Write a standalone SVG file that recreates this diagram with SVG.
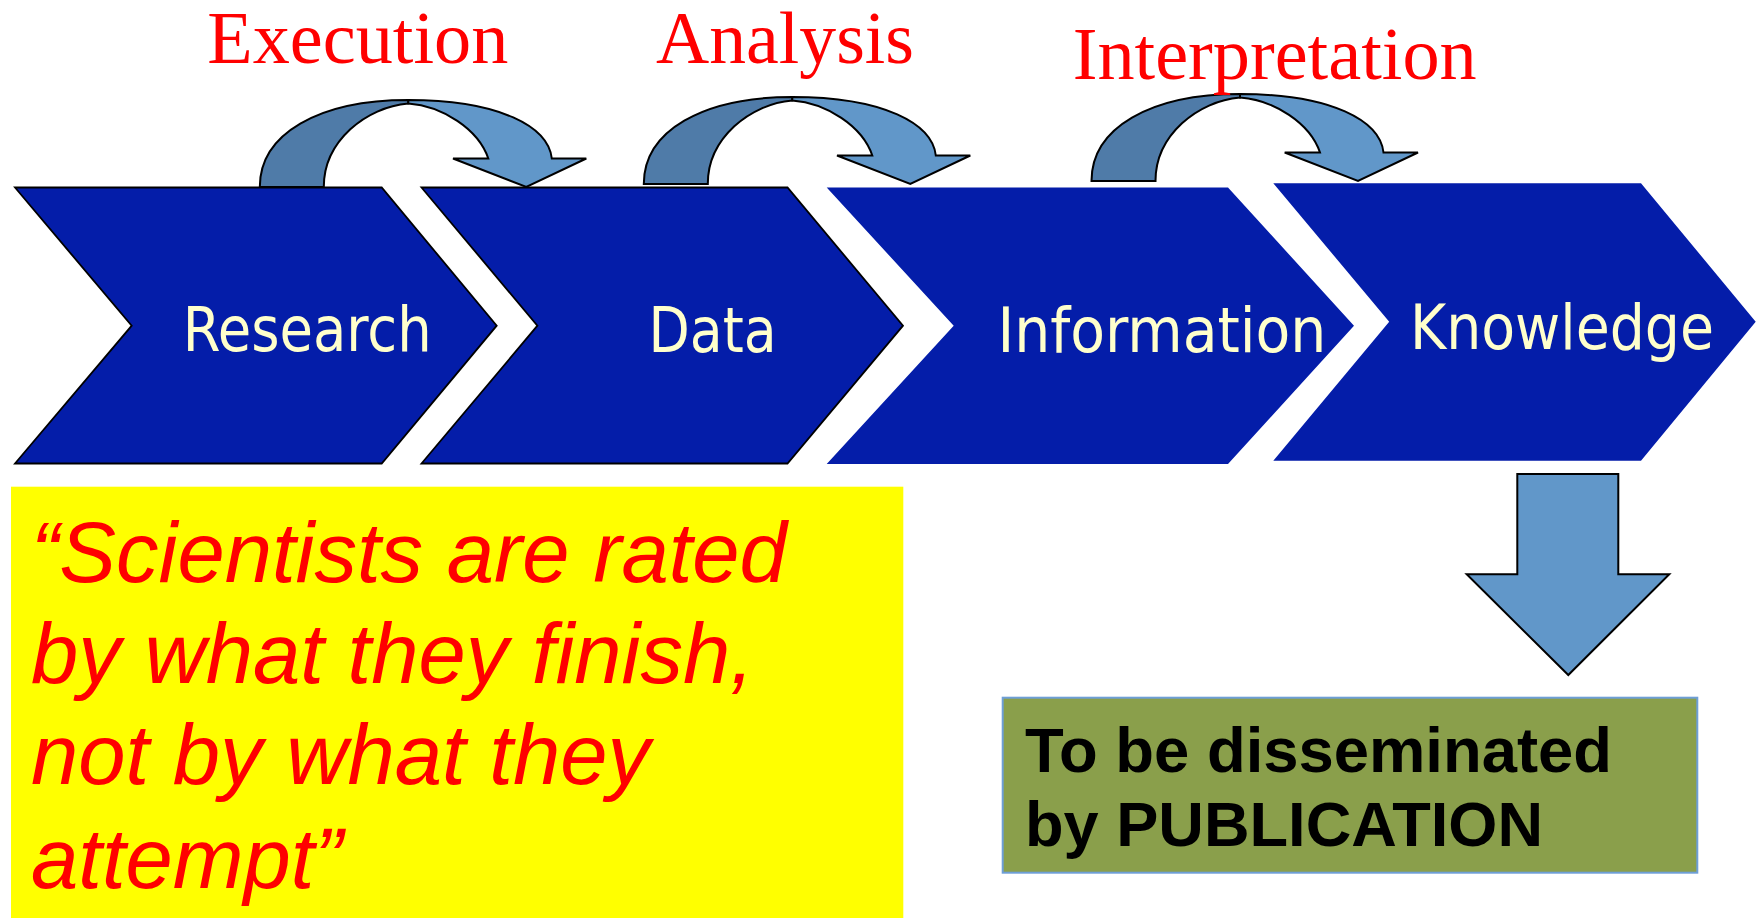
<svg xmlns="http://www.w3.org/2000/svg" width="1759" height="918" viewBox="0 0 1759 918">
<style>
.chev{fill:#041DA9}
.chev.s{stroke:#000;stroke-width:1.8;stroke-linejoin:miter}
.lbl{font-family:"DejaVu Sans Condensed","DejaVu Sans",Verdana,sans-serif;font-stretch:condensed;font-size:63px;fill:#FFFFCC}
.step{font-family:"Liberation Serif","Times New Roman",serif;font-size:75px;fill:#FF0000}
.back{fill:#4F7BA8;stroke:#000;stroke-width:2;stroke-linejoin:miter}
.front{fill:#6197C9;stroke:#000;stroke-width:2;stroke-linejoin:miter}
.quote{font-family:"Liberation Sans",Arial,sans-serif;font-style:italic;font-size:85px;fill:#FF0000}
.pub{font-family:"Liberation Sans",Arial,sans-serif;font-weight:bold;font-size:63px;fill:#000}
</style>
<defs>
<g id="curved">
<path class="back" d="M-148.5,0 C-148.5,-53 -90,-87 0,-87 L0,-83.5 C-42,-80 -84.5,-46 -84.5,0 Z"/>
<path class="front" d="M0,-87 C92,-87 140,-60 143.5,-28.5 L178,-28.5 L118,0 L44.7,-28.5 L80,-28.5 C70,-58 34,-81 0,-83.5 Z"/>
</g>
</defs>
<rect width="1759" height="918" fill="#fff"/>

<g id="research">
<polygon class="chev s" points="15,187.5 381.7,187.5 496.7,325.7 381.7,463.5 15,463.5 131.7,325.7"/>
<text class="lbl" x="182.7" y="351" textLength="249" lengthAdjust="spacingAndGlyphs">Research</text>
</g>
<g id="data">
<polygon class="chev s" points="421.5,187.5 787.5,187.5 903,325.7 787.5,463.5 421.5,463.5 537.4,325.7"/>
<text class="lbl" x="648.5" y="352" textLength="128" lengthAdjust="spacingAndGlyphs">Data</text>
</g>
<g id="information">
<polygon class="chev" points="826.7,187.5 1228,187.5 1354,325.7 1228,464 826.7,464 953.7,325.7"/>
<text class="lbl" x="997.4" y="352" textLength="329" lengthAdjust="spacingAndGlyphs">Information</text>
</g>
<g id="knowledge">
<polygon class="chev" points="1273.3,183.3 1641,183.3 1755.7,321.7 1641,460.7 1273.3,460.7 1389.2,321.7"/>
<text class="lbl" x="1410" y="349" textLength="304" lengthAdjust="spacingAndGlyphs">Knowledge</text>
</g>

<g id="connectors">
<use id="execution-arrow" href="#curved" transform="translate(408.3,187)"/>
<use id="analysis-arrow" href="#curved" transform="translate(792.3,184)"/>
<use id="interpretation-arrow" href="#curved" transform="translate(1240,181)"/>
<polygon id="publish-arrow" class="front" points="1517.3,474 1618.3,474 1618.3,574.3 1669.3,574.3 1568.3,675 1466.7,574.3 1517.3,574.3"/>
</g>

<g id="labels">
<text class="step" x="207.3" y="63.3" textLength="301" lengthAdjust="spacingAndGlyphs">Execution</text>
<text class="step" x="656" y="63.3" textLength="258" lengthAdjust="spacingAndGlyphs">Analysis</text>
<text class="step" x="1072.7" y="79.3" textLength="404" lengthAdjust="spacingAndGlyphs">Interpretation</text>
</g>

<g id="quote">
<rect x="11" y="486.7" width="892.3" height="432" fill="#FFFF00"/>
<text class="quote" x="31" y="581.7">“Scientists are rated</text>
<text class="quote" x="31" y="683.3">by what they finish,</text>
<text class="quote" x="31" y="784.3">not by what they</text>
<text class="quote" x="31" y="888.3">attempt”</text>
</g>

<g id="publication">
<rect x="1002.7" y="697.7" width="694.6" height="175" fill="#8A9F4B" stroke="#6E9FD6" stroke-width="2"/>
<text class="pub" x="1025" y="772.3" textLength="587" lengthAdjust="spacingAndGlyphs">To be disseminated</text>
<text class="pub" x="1025" y="845.7" textLength="518" lengthAdjust="spacingAndGlyphs">by PUBLICATION</text>
</g>
</svg>
